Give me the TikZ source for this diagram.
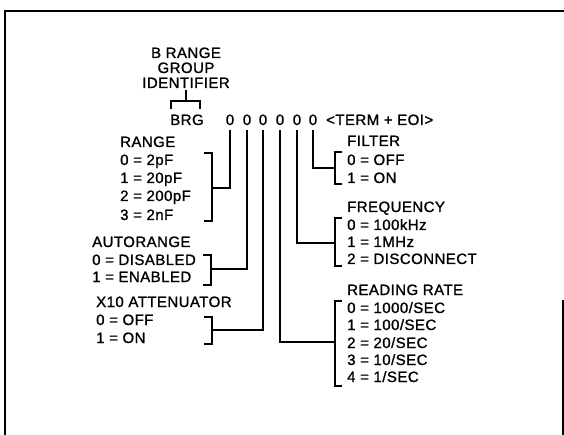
\documentclass[tikz,border=0pt]{standalone}
\usepackage{fontspec}
\newfontfamily\dgfont[LetterSpace=3,FakeBold=1.2]{Liberation Sans}
\begin{document}
\begin{tikzpicture}[x=1pt,y=-1pt,
  lbl/.style={anchor=base west,inner sep=0pt,font=\dgfont\fontsize{15}{18}\selectfont},
  ctr/.style={anchor=base,inner sep=0pt,font=\dgfont\fontsize{15}{18}\selectfont},
  wire/.style={line width=1.4pt,line cap=butt,line join=miter},
  frame/.style={line width=1.5pt}]
\useasboundingbox (0,0) rectangle (564,435);
% frame
\draw[frame] (564,11) -- (5,11) -- (5,435);
\draw[frame] (563,300) -- (563,435);
% identifier
\node[ctr] (t1) at (186,58) {B RANGE};
\node[ctr] (t2) at (186,73) {GROUP};
\node[ctr] (t3) at (186,88) {IDENTIFIER};
\node[ctr] (brg) at (187,125) {BRG};
\coordinate (idb) at (186,101);
\draw[wire] ([yshift=-2pt]t3.south) -- (idb);
\draw[wire] (171,109) -- (171,101) -- (200,101) -- (200,109);
% command digits
\foreach \i/\x in {1/230,2/247,3/263,4/280,5/297,6/313}
  \node[ctr] (z\i) at (\x,125) {0};
\node[lbl] (term) at (326,125) {<TERM + EOI>};
% RANGE
\node[lbl] (rg) at (120,147) {RANGE};
\node[lbl] (rg0) at (120,165) {0 = 2pF};
\node[lbl] (rg1) at (120,183) {1 = 20pF};
\node[lbl] (rg2) at (120,201) {2 = 200pF};
\node[lbl] (rg3) at (120,220) {3 = 2nF};
\draw[wire] (204,153) -- (212,153) -- (212,221) -- (204,221);
\coordinate (rgb) at (212,188);
\draw[wire] ([yshift=-5pt]z1.south) |- (rgb);
% AUTORANGE
\node[lbl] (ar) at (92,247) {AUTORANGE};
\node[lbl] (ar0) at (92,265) {0 = DISABLED};
\node[lbl] (ar1) at (92,282) {1 = ENABLED};
\draw[wire] (203,255) -- (211,255) -- (211,285) -- (203,285);
\coordinate (arb) at (211,269);
\draw[wire] ([yshift=-5pt]z2.south) |- (arb);
% X10 ATTENUATOR
\node[lbl] (at) at (96,307) {X10 ATTENUATOR};
\node[lbl] (at0) at (96,325) {0 = OFF};
\node[lbl] (at1) at (96,343) {1 = ON};
\draw[wire] (204,317) -- (212,317) -- (212,344) -- (204,344);
\coordinate (atb) at (212,330);
\draw[wire] ([yshift=-5pt]z3.south) |- (atb);
% FILTER
\node[lbl] (fi) at (347,146) {FILTER};
\node[lbl] (fi0) at (347,165) {0 = OFF};
\node[lbl] (fi1) at (347,183) {1 = ON};
\draw[wire] (342,152) -- (335,152) -- (335,184) -- (342,184);
\coordinate (fib) at (335,168);
\draw[wire] ([yshift=-5pt]z6.south) |- (fib);
% FREQUENCY
\node[lbl] (fr) at (347,212) {FREQUENCY};
\node[lbl] (fr0) at (347,230) {0 = 100kHz};
\node[lbl] (fr1) at (347,247) {1 = 1MHz};
\node[lbl] (fr2) at (347,264) {2 = DISCONNECT};
\draw[wire] (342,218) -- (335,218) -- (335,266) -- (342,266);
\coordinate (frb) at (335,243);
\draw[wire] ([yshift=-5pt]z5.south) |- (frb);
% READING RATE
\node[lbl] (rr) at (347,295) {READING RATE};
\node[lbl] (rr0) at (347,313) {0 = 1000/SEC};
\node[lbl] (rr1) at (347,330) {1 = 100/SEC};
\node[lbl] (rr2) at (347,348) {2 = 20/SEC};
\node[lbl] (rr3) at (347,365) {3 = 10/SEC};
\node[lbl] (rr4) at (347,382) {4 = 1/SEC};
\draw[wire] (342,301) -- (335,301) -- (335,386) -- (342,386);
\coordinate (rrb) at (335,342);
\draw[wire] ([yshift=-5pt]z4.south) |- (rrb);
\end{tikzpicture}
\end{document}
